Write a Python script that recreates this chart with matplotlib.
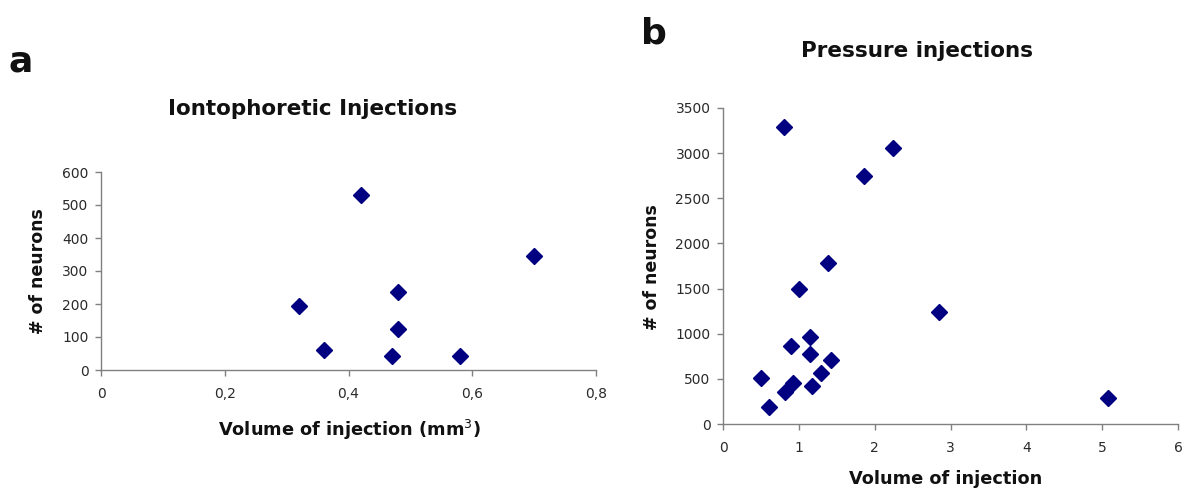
import matplotlib
matplotlib.use("Agg")
import matplotlib.pyplot as plt

plt.rcParams['font.family'] = ['DejaVu Sans']

# Panel a: iontophoretic injections
ionto_volume = [0.32, 0.36, 0.42, 0.47, 0.48, 0.48, 0.58, 0.70]
ionto_neurons = [195, 60, 530, 42, 125, 237, 42, 345]

# Panel b: pressure injections
press_volume = [0.80, 2.24, 1.86, 1.39, 1.00, 2.85, 1.15, 0.90, 1.15, 1.42,
                1.29, 0.50, 0.92, 1.18, 0.82, 0.60, 5.08]
press_neurons = [3290, 3060, 2750, 1780, 1490, 1245, 965, 865, 770, 710,
                 560, 505, 455, 425, 350, 185, 285]

ionto_xticks = [0, 0.2, 0.4, 0.6, 0.8]
ionto_xticklabels = ['0', '0,2', '0,4', '0,6', '0,8']
ionto_yticks = [0, 100, 200, 300, 400, 500, 600]
press_xticks = [0, 1, 2, 3, 4, 5, 6]
press_yticks = [0, 500, 1000, 1500, 2000, 2500, 3000, 3500]

W, H = 1184, 488
fig = plt.figure(figsize=(W / 100, H / 100), dpi=100)

def box(l, t, r, b):
    return [l / W, 1 - b / H, (r - l) / W, (b - t) / H]

def ftext(x, y, s, **kw):
    return fig.text(x / W, 1 - y / H, s, ha='center', va='center',
                    color=txtcol, **kw)

navy = '#000080'
axcol = '#808080'
tickcol = '#2a2a2a'
txtcol = '#111111'

def style(ax):
    for s in ['top', 'right']:
        ax.spines[s].set_visible(False)
    for s in ['left', 'bottom']:
        ax.spines[s].set_color(axcol)
        ax.spines[s].set_linewidth(1.0)
    ax.tick_params(axis='both', colors=axcol, labelcolor=tickcol, labelsize=10,
                   direction='out', length=4, width=1.0)
    ax.tick_params(axis='x', pad=8)
    ax.tick_params(axis='y', pad=5)

ax1 = fig.add_axes(box(101, 172, 596, 370))
ax1.plot(ionto_volume, ionto_neurons, linestyle='none', marker='D',
         markersize=8, color=navy, clip_on=False)
ax1.set_xlim(0, 0.8)
ax1.set_ylim(0, 600)
ax1.set_xticks(ionto_xticks)
ax1.set_xticklabels(ionto_xticklabels)
ax1.set_yticks(ionto_yticks)
style(ax1)
ftext(38, 271, '# of neurons', fontsize=12.5, fontweight='bold', rotation=90)
ftext(349, 430, 'Volume of injection (mm$^3$)', fontsize=12.8, fontweight='bold')
ftext(313, 109, 'Iontophoretic Injections', fontsize=15.5, fontweight='bold')
ftext(21, 62, 'a', fontsize=26, fontweight='bold')

ax2 = fig.add_axes(box(723, 108, 1178, 424))
ax2.plot(press_volume, press_neurons, linestyle='none', marker='D',
         markersize=8, color=navy, clip_on=False)
ax2.set_xlim(0, 6)
ax2.set_ylim(0, 3500)
ax2.set_xticks(press_xticks)
ax2.set_yticks(press_yticks)
style(ax2)
ftext(652, 267, '# of neurons', fontsize=12.5, fontweight='bold', rotation=90)
ftext(946, 479, 'Volume of injection', fontsize=12.8, fontweight='bold')
ftext(917, 51, 'Pressure injections', fontsize=15.5, fontweight='bold')
ftext(654, 33, 'b', fontsize=26, fontweight='bold')

fig.savefig('out.png', dpi=100)
